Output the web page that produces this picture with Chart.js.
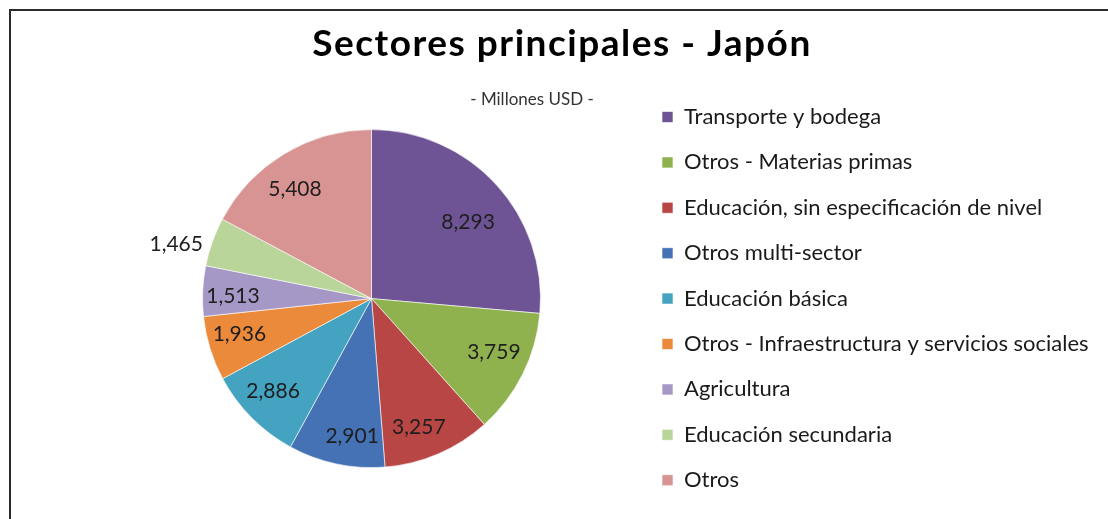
<!DOCTYPE html>
<html lang="es">
<head>
<meta charset="UTF-8">
<title>Sectores principales - Japón</title>
<script src="https://cdn.jsdelivr.net/npm/chart.js"></script>
<style>
    html, body { margin: 0; padding: 0; background: #fff; overflow: hidden; }
    .frame { position: absolute; left: 9px; top: 9px; width: 1200px; height: 600px;
             border-left: 2px solid #2b2b2b; border-top: 2px solid #2b2b2b; }
    #myChart { position: absolute; left: 0; top: 0; }
</style>
<script>
    // datos
    const sectores = [
        'Transporte y bodega',
        'Otros - Materias primas',
        'Educación, sin especificación de nivel',
        'Otros multi-sector',
        'Educación básica',
        'Otros - Infraestructura y servicios sociales',
        'Agricultura',
        'Educación secundaria',
        'Otros'
    ];
    const montos = [8293, 3759, 3257, 2901, 2886, 1936, 1513, 1465, 5408];
    const colores = ['#6F5495', '#8FB24F', '#B84644', '#4472B4', '#44A3C0',
                     '#EC8A3C', '#A698C6', '#B9D59A', '#D89492'];
    const titulo = 'Sectores principales - Japón';
    const subtitulo = '- Millones USD -';

    // donde va cada etiqueta: fraccion del radio y giro (grados) respecto al centro del sector
    const etiquetaRadio = [0.73, 0.79, 0.81, 0.82, 0.80, 0.81, 0.82, 1.2, 0.79];
    const etiquetaGiro = [4, -3, 3, -4, 1.5, 2, -1.5, -4, -4];
</script>
</head>
<body>
<div class="frame"></div>
<canvas id="myChart" width="1108" height="519"></canvas>
<script>
    const fuente = 'Lato';
    const legendFont = 22, boxW = 11, legendPad = 23.4;

    // ancho del texto mas largo de la leyenda, para dejar la leyenda donde va
    const mc = document.createElement('canvas').getContext('2d');
    mc.font = legendFont + 'px ' + fuente;
    let tw = 0;
    sectores.forEach(function(s){ tw = Math.max(tw, mc.measureText(s).width); });
    const legendLeft = 661 - legendPad;
    const cx = 371;
    const padRight = Math.max(0, 1108 - (legendLeft + legendPad + boxW + legendFont + tw));

    const titulos = {
        id: 'titulos',
        afterDraw(chart) {
            const ctx = chart.ctx;
            ctx.save();
            ctx.fillStyle = '#000';
            ctx.textAlign = 'center';
            ctx.textBaseline = 'alphabetic';
            ctx.font = 'bold 37px ' + fuente;
            const w = ctx.measureText(titulo).width;
            ctx.letterSpacing = Math.min(2, Math.max(0, (498 - w) / (titulo.length - 1))) + 'px';
            ctx.fillText(titulo, 562, 56);
            ctx.letterSpacing = '0px';
            ctx.fillStyle = '#333';
            ctx.font = '17px ' + fuente;
            ctx.fillText(subtitulo, 532, 105);
            ctx.restore();
        }
    };

    const etiquetas = {
        id: 'etiquetas',
        afterDatasetsDraw(chart) {
            const ctx = chart.ctx;
            const meta = chart.getDatasetMeta(0);
            ctx.save();
            ctx.font = '21px ' + fuente;
            ctx.fillStyle = '#1e1e1e';
            ctx.textAlign = 'center';
            ctx.textBaseline = 'middle';
            meta.data.forEach(function(arc, i){
                const p = arc.getProps(['x', 'y', 'startAngle', 'endAngle', 'outerRadius'], true);
                const a = (p.startAngle + p.endAngle) / 2 + etiquetaGiro[i] * Math.PI / 180;
                const r = p.outerRadius * etiquetaRadio[i];
                ctx.fillText(montos[i].toLocaleString('en-US'), p.x + Math.cos(a) * r, p.y + Math.sin(a) * r);
            });
            ctx.restore();
        }
    };

    const ctx = document.getElementById('myChart');
    new Chart(ctx, {
        type: 'pie',
        data: {
            labels: sectores,
            datasets: [{
                data: montos,
                backgroundColor: colores,
                borderColor: 'rgba(255,255,255,0.6)',
                borderWidth: 1,
                radius: 169
            }]
        },
        options: {
            responsive: false,
            animation: false,
            layout: {
                padding: { left: 2 * cx - legendLeft, right: padRight, top: 79, bottom: 0.8 }
            },
            plugins: {
                tooltip: { enabled: false },
                legend: {
                    position: 'right',
                    maxWidth: 600,
                    labels: {
                        boxWidth: boxW,
                        boxHeight: boxW,
                        padding: legendPad,
                        color: '#1a1a1a',
                        font: { family: fuente, size: legendFont }
                    }
                }
            }
        },
        plugins: [titulos, etiquetas]
    });
</script>
</body>
</html>
